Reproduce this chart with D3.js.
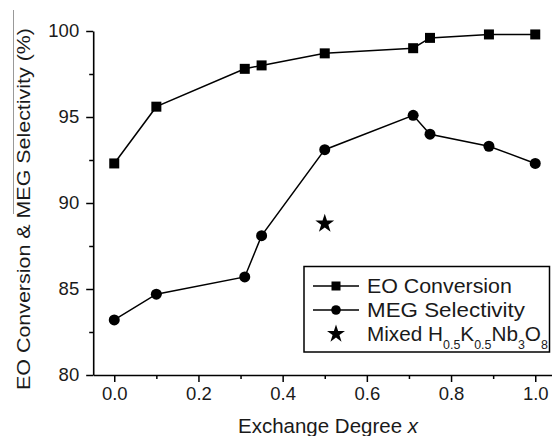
<!DOCTYPE html>
<html>
<head>
<meta charset="utf-8">
<script src="https://cdn.jsdelivr.net/npm/d3@7"></script>
<style>
  html, body { margin: 0; padding: 0; background: #fff; }
  svg { display: block; font-family: "Liberation Sans", Arial, sans-serif; }
</style>
</head>
<body>
<svg id="chart" width="552" height="436"></svg>
<script>
// Exchange degree x of the proton-exchanged samples
const exchangeDegree = [0, 0.1, 0.31, 0.35, 0.5, 0.71, 0.75, 0.89, 1.0];
// EO conversion (%)
const eoConversion = [92.3, 95.6, 97.8, 98.0, 98.7, 99.0, 99.6, 99.8, 99.8];
// MEG selectivity (%)
const megSelectivity = [83.2, 84.7, 85.7, 88.1, 93.1, 95.1, 94.0, 93.3, 92.3];
// Mechanically mixed H0.5K0.5Nb3O8 reference sample
const mixedX = [0.5];
const mixedMeg = [88.8];

const xTicks = [0, 0.2, 0.4, 0.6, 0.8, 1.0];
const xMinorTicks = [0.1, 0.3, 0.5, 0.7, 0.9];
const yTicks = [80, 85, 90, 95, 100];
const yMinorTicks = [82.5, 87.5, 92.5, 97.5];

const svg = d3.select("#chart");

const x = d3.scaleLinear().domain([-0.05, 1.05]).range([93.2, 556.3]);
const y = d3.scaleLinear().domain([80, 100]).range([375, 31]);

// thin edge line at the left margin
svg.append("line")
  .attr("x1", 13.5).attr("x2", 13.5).attr("y1", 10).attr("y2", 214)
  .attr("stroke", "#999").attr("stroke-width", 1);

// minor ticks
const xMinor = svg.append("g").attr("transform", "translate(0,375)")
  .call(d3.axisBottom(x).tickValues(xMinorTicks).tickSize(4).tickFormat(""));
const yMinor = svg.append("g").attr("transform", "translate(93.2,0)")
  .call(d3.axisLeft(y).tickValues(yMinorTicks).tickSize(4).tickFormat(""));
[xMinor, yMinor].forEach(g => {
  g.select(".domain").remove();
  g.selectAll("line").attr("stroke", "#000").attr("stroke-width", 1.5);
});

// major axes
const xAxis = svg.append("g").attr("transform", "translate(0,375)")
  .call(d3.axisBottom(x).tickValues(xTicks).tickSize(7).tickSizeOuter(0)
    .tickFormat(d3.format(".1f")));
const yAxis = svg.append("g").attr("transform", "translate(93.2,0)")
  .call(d3.axisLeft(y).tickValues(yTicks).tickSize(7).tickSizeOuter(0)
    .tickFormat(d3.format("d")));
[xAxis, yAxis].forEach(g => {
  g.select(".domain").attr("stroke", "#000").attr("stroke-width", 1.6);
  g.selectAll(".tick line").attr("stroke", "#000").attr("stroke-width", 1.5);
  g.selectAll(".tick text").attr("fill", "#1a1a1a").attr("font-size", 18.5)
    .attr("font-family", "Liberation Sans, Arial, sans-serif");
});
xAxis.selectAll(".tick text").attr("dy", "0.71em").attr("y", 12);
yAxis.selectAll(".tick text").attr("x", -14);

// axis titles, stretched to the widths of the original lettering
function stretch(sel, width) {
  const w = sel.node().getComputedTextLength();
  return w ? width / w : 1;
}
const xTitle = svg.append("text")
  .attr("font-size", 19.5).attr("fill", "#1a1a1a").attr("text-anchor", "middle");
xTitle.append("tspan").text("Exchange Degree ");
xTitle.append("tspan").attr("font-style", "italic").text("x");
const kx = stretch(xTitle, 180);
xTitle.attr("transform", `translate(328,433) scale(${kx},1)`);

const yTitle = svg.append("text")
  .attr("font-size", 19).attr("fill", "#1a1a1a").attr("text-anchor", "middle")
  .text("EO Conversion & MEG Selectivity (%)");
const ky = stretch(yTitle, 362);
yTitle.attr("transform", `translate(29.5,209) rotate(-90) scale(${ky},1)`);

// series lines
const line = d3.line().x(d => x(d[0])).y(d => y(d[1]));
const eoData = d3.zip(exchangeDegree, eoConversion);
const megData = d3.zip(exchangeDegree, megSelectivity);

[eoData, megData].forEach(data => {
  svg.append("path").datum(data).attr("d", line)
    .attr("fill", "none").attr("stroke", "#000").attr("stroke-width", 1.5);
});

svg.append("g").selectAll("rect").data(eoData).join("rect")
  .attr("x", d => x(d[0]) - 5).attr("y", d => y(d[1]) - 5)
  .attr("width", 10).attr("height", 10).attr("fill", "#000");

svg.append("g").selectAll("circle").data(megData).join("circle")
  .attr("cx", d => x(d[0])).attr("cy", d => y(d[1])).attr("r", 5.5)
  .attr("fill", "#000");

const star = d3.symbol().type(d3.symbolStar).size(110);
svg.append("g").selectAll("path").data(d3.zip(mixedX, mixedMeg)).join("path")
  .attr("d", star)
  .attr("transform", d => `translate(${x(d[0])},${y(d[1])})`)
  .attr("fill", "#000");

// legend
const legend = svg.append("g");
legend.append("rect")
  .attr("x", 304).attr("y", 266.5).attr("width", 245.5).attr("height", 85.5)
  .attr("fill", "#fff").attr("stroke", "#000").attr("stroke-width", 1.5);

const rows = [286, 310, 334];
const lx1 = 313, lx2 = 359, lmx = 336, tx = 367;

legend.append("line").attr("x1", lx1).attr("x2", lx2).attr("y1", rows[0]).attr("y2", rows[0])
  .attr("stroke", "#000").attr("stroke-width", 1.5);
legend.append("rect").attr("x", lmx - 4.5).attr("y", rows[0] - 4.5)
  .attr("width", 9).attr("height", 9).attr("fill", "#000");

legend.append("line").attr("x1", lx1).attr("x2", lx2).attr("y1", rows[1]).attr("y2", rows[1])
  .attr("stroke", "#000").attr("stroke-width", 1.5);
legend.append("circle").attr("cx", lmx).attr("cy", rows[1]).attr("r", 4.8).attr("fill", "#000");

legend.append("path").attr("d", d3.symbol().type(d3.symbolStar).size(100))
  .attr("transform", `translate(${lmx},${rows[2]})`).attr("fill", "#000");

function legendText(row, width, build) {
  const t = legend.append("text").attr("font-size", 20).attr("fill", "#1a1a1a")
    .attr("dy", "0.36em");
  build(t);
  const k = stretch(t, width);
  t.attr("transform", `translate(${tx},${row}) scale(${k},1)`);
}
legendText(rows[0], 145, t => t.text("EO Conversion"));
legendText(rows[1], 158, t => t.text("MEG Selectivity"));
legendText(rows[2], 181, t => {
  const parts = [["Mixed H", 0], ["0.5", 1], ["K", 0], ["0.5", 1], ["Nb", 0], ["3", 1], ["O", 0], ["8", 1]];
  let shift = 0;
  parts.forEach(([s, sub]) => {
    const dy = sub ? 8 - shift : -shift;
    shift = sub ? 8 : 0;
    t.append("tspan").attr("dy", dy === 0 ? null : dy)
      .attr("font-size", sub ? 12 : 20).text(s);
  });
});
</script>
</body>
</html>
